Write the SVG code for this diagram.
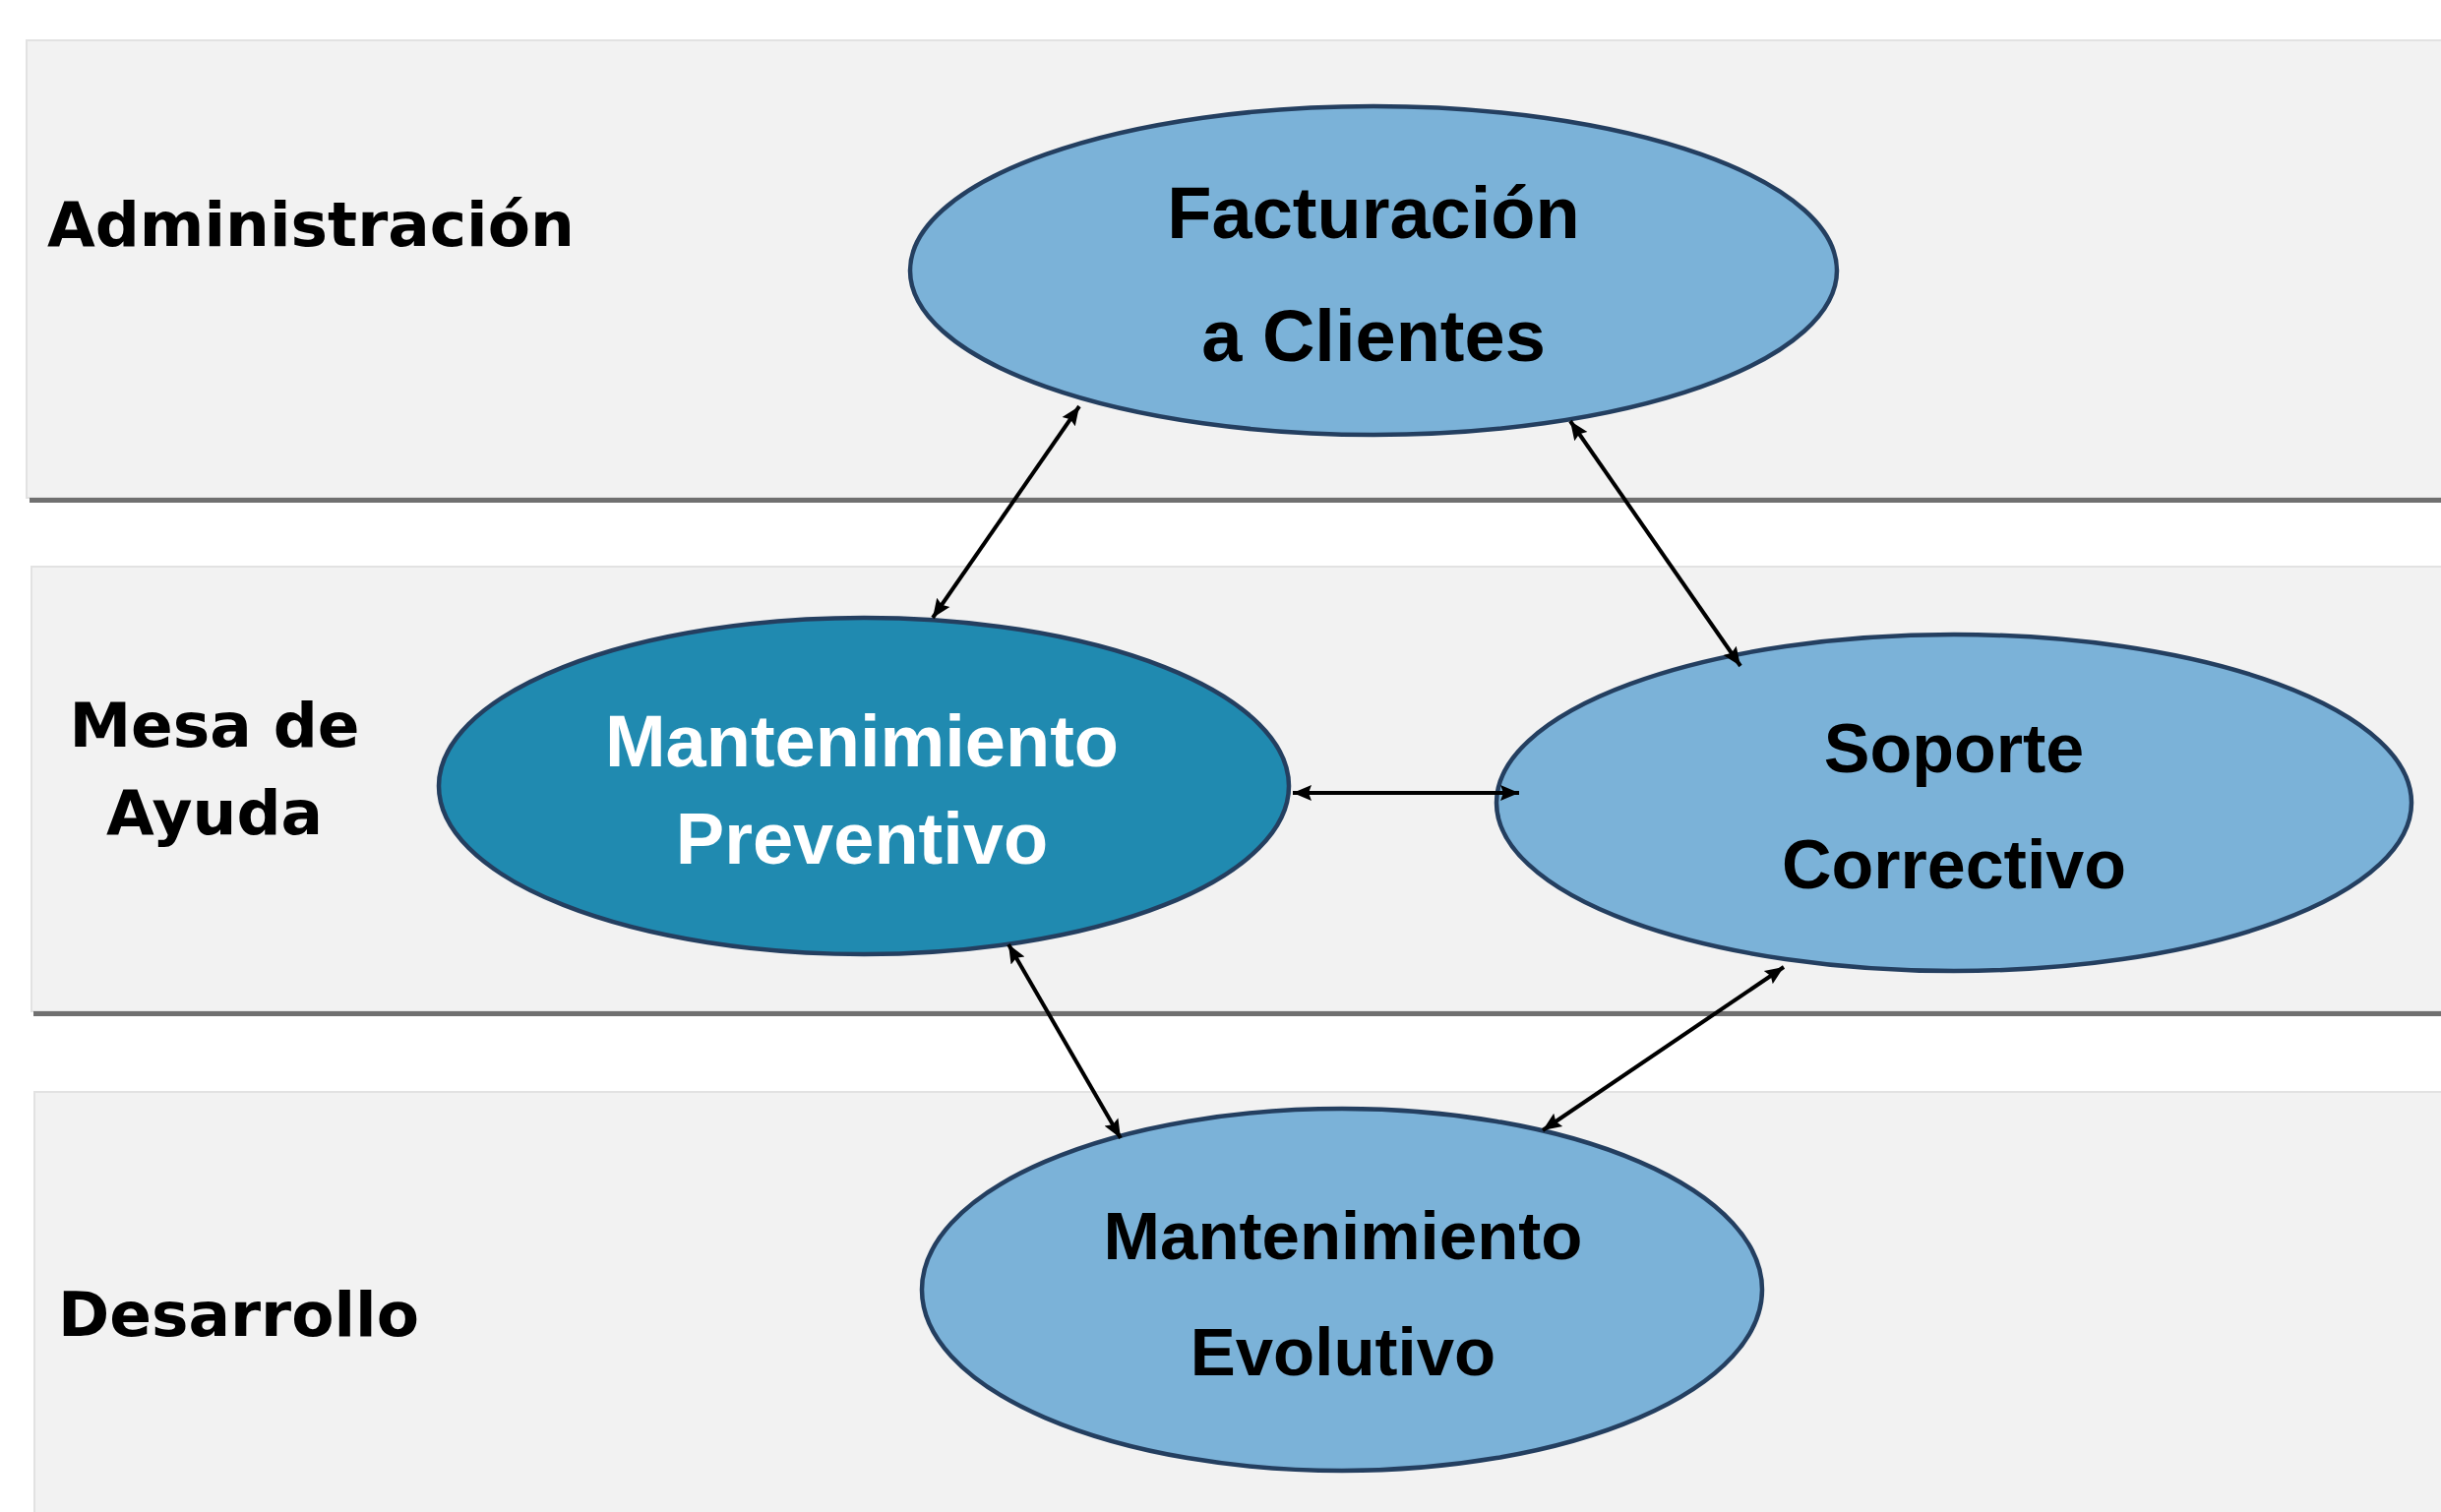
<svg xmlns="http://www.w3.org/2000/svg" width="2481" height="1537" viewBox="0 0 2481 1537">
<style>
.band{fill:#f2f2f2;stroke:#e2e2e2;stroke-width:2}
.shadow{fill:#707070}
.lane{font-family:"DejaVu Sans",Verdana,sans-serif;font-weight:bold;font-size:63px;fill:#000}
.ell{stroke:#243f60;stroke-width:4.5}
.light{fill:#7bb2d8}
.dark{fill:#208ab0}
.t{font-family:"Liberation Sans",Arial,sans-serif;font-weight:bold;text-anchor:middle;fill:#000}
.w{fill:#fff}
.conn{stroke:#000;stroke-width:4;fill:none;marker-start:url(#ah);marker-end:url(#ah)}
</style>
<defs>
<marker id="ah" markerUnits="userSpaceOnUse" markerWidth="20" markerHeight="20" viewBox="0 0 20 20" refX="19" refY="10" orient="auto-start-reverse">
<path d="M0,2 L19,10 L0,18 L3,10 z" fill="#000"/>
</marker>
</defs>
<rect width="2481" height="1537" fill="#fff"/>
<g id="lanes">
<g id="lane-administracion">
<rect class="band" x="27" y="41" width="2460" height="465"/>
<rect class="shadow" x="30" y="506" width="2451" height="5"/>
<text class="lane" x="48" y="250">Administración</text>
</g>
<g id="lane-mesa">
<rect class="band" x="32" y="576" width="2455" height="452"/>
<rect class="shadow" x="34" y="1028" width="2447" height="5"/>
<text class="lane" x="218" y="759" text-anchor="middle">Mesa de</text>
<text class="lane" x="218" y="848" text-anchor="middle">Ayuda</text>
</g>
<g id="lane-desarrollo">
<rect class="band" x="35" y="1110" width="2452" height="440"/>
<text class="lane" x="59" y="1358">Desarrollo</text>
</g>
</g>
<g id="node-facturacion">
<ellipse class="ell light" cx="1396" cy="275" rx="471" ry="167"/>
<text class="t" x="1396" y="242" font-size="74">Facturación</text>
<text class="t" x="1396" y="367" font-size="74">a Clientes</text>
</g>
<g id="node-preventivo">
<ellipse class="ell dark" cx="878" cy="799" rx="432" ry="171"/>
<text class="t w" x="876" y="779" font-size="74">Mantenimiento</text>
<text class="t w" x="876" y="878" font-size="74">Preventivo</text>
</g>
<g id="node-correctivo">
<ellipse class="ell light" cx="1986" cy="816" rx="465" ry="171"/>
<text class="t" x="1986" y="785" font-size="70">Soporte</text>
<text class="t" x="1986" y="903" font-size="70">Correctivo</text>
</g>
<g id="node-evolutivo">
<ellipse class="ell light" cx="1364" cy="1311" rx="427" ry="184"/>
<text class="t" x="1365" y="1280" font-size="69">Mantenimiento</text>
<text class="t" x="1365" y="1398" font-size="69">Evolutivo</text>
</g>
<g id="connectors">
<line class="conn" x1="948" y1="628" x2="1097" y2="413"/>
<line class="conn" x1="1596" y1="428" x2="1769" y2="677"/>
<line class="conn" x1="1314" y1="806" x2="1544" y2="806"/>
<line class="conn" x1="1813" y1="983" x2="1568" y2="1149"/>
<line class="conn" x1="1025" y1="960" x2="1139" y2="1157"/>
</g>
</svg>
